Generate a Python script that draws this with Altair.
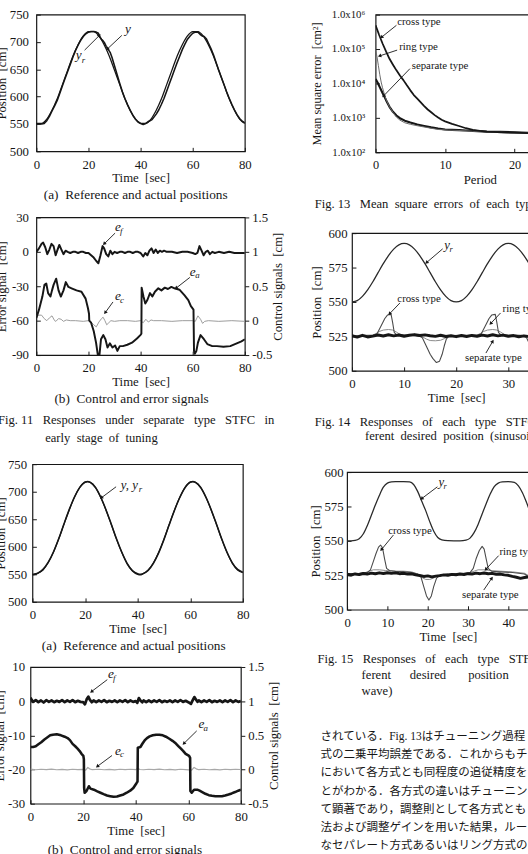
import math

import altair as alt
import pandas as pd

SERIF = "Liberation Serif"
BODY = "Liberation Serif, Noto Sans CJK JP"
INK = "#161616"
NB = "\u00a0"
LEAD = "\u200b"  # keeps leading indentation from being trimmed

TIME = "Time" + NB * 2 + "[sec]"
POS = "Position" + NB * 2 + "[cm]"
ERR = "Error signal" + NB * 2 + "[cm]"
CTRL = "Control signals" + NB * 2 + "[cm]"
MSE = "Mean square error" + NB * 2 + "[cm\u00b2]"

# numbers with a plain hyphen for negatives
NUM = "replace(format(datum.value, '~g'), '\u2212', '-')"
POW = ("'1.0x10' + (datum.value >= 999999 ? '\u2076' : datum.value >= 99999 ? '\u2075' : "
       "datum.value >= 9999 ? '\u2074' : datum.value >= 999 ? '\u00b3' : '\u00b2')")

# ---------------- Fig. 11 (a): reference and actual positions ----------------
F11A_YR = [(0, 551), (2, 551), (4, 559), (6, 575), (8, 596), (10, 622), (12, 648), (14, 674),
           (16, 695), (18, 711), (20, 719), (22, 719), (24, 711), (26, 695), (28, 674), (30, 648),
           (32, 622), (34, 596), (36, 575), (38, 559), (40, 551), (42, 551), (44, 559), (46, 575),
           (48, 596), (50, 622), (52, 648), (54, 674), (56, 695), (58, 711), (60, 719), (62, 719),
           (64, 711), (66, 695), (68, 674), (70, 648), (72, 622), (74, 596), (76, 575), (78, 559),
           (80, 551)]
F11A_Y = [(0, 550), (1, 550), (2, 550), (3, 551), (4, 556), (5, 564), (6, 574), (7, 583), (8, 593),
          (9, 606), (10, 620), (11, 633), (12, 646), (13, 659), (14, 672), (15, 684), (16, 694),
          (17, 703), (18, 710), (19, 715), (20, 718), (21, 719), (22, 719), (23, 718), (23.8, 716),
          (24.4, 709), (25, 705), (25.6, 702), (26.2, 698), (26.8, 692), (27.5, 687), (28.3, 681),
          (29, 672), (30, 656), (31, 640), (32, 624), (33, 609), (34, 596), (35, 585), (36, 575),
          (37, 566), (38, 559), (39, 554), (40, 551), (41, 549), (42, 551), (42.8, 554), (43.6, 556),
          (44.4, 558), (45.2, 563), (46, 568), (47, 576), (48, 586), (49, 597), (50, 610), (51, 623),
          (52, 636), (53, 649), (54, 662), (55, 674), (56, 686), (57, 696), (58, 705), (59, 711),
          (60, 716), (61, 718), (62, 718), (62.8, 714), (63.6, 711), (64.4, 710), (65.2, 706),
          (66, 698), (67, 688), (68, 676), (69, 662), (70, 648), (71, 635), (72, 622), (73, 609),
          (74, 597), (75, 586), (76, 576), (77, 567), (78, 560), (79, 555), (80, 552)]
F11A_SYM = [(34.0, 723, "y"), (15.1, 676, "y")]
F11A_SUB = [(17.4, 667, "r")]
F11A_ARROWS = [(32.8, 712, 27.2, 687), (18.5, 685, 24.2, 712)]

# ---------------- Fig. 11 (b): control and error signals ----------------
F11B_EF = [(0, 0), (1, 3), (2, 7), (2.6, 8), (3.4, 4), (4.2, -2), (5, 2), (5.8, 7), (6.6, 5),
           (7.4, -3), (8, 1), (8.8, 6), (9.6, 2), (10.4, -2), (11.2, 1), (12, 0), (13, -1), (14, 0),
           (15, 0), (16, -1), (17, 0), (18, 0), (19, -1), (20, -1), (21, -3), (22, -5), (23, -8),
           (23.8, -10), (24.6, -3), (25.4, 5), (26, 3), (26.8, -2), (27.6, -4), (28.4, 1), (29.2, -2),
           (30, 0), (31, -1), (32, 0), (33, 0), (34, -1), (35, 0), (36, 0), (37, -1), (38, 0), (39, 0),
           (40, -1), (41, -4), (41.8, -1), (42.6, -3), (43.4, 1), (44.2, 3), (45, -1), (45.8, 2),
           (46.6, -1), (47.4, 1), (48.2, 0), (49, 1), (50, 0), (52, 0), (54, -1), (56, 0), (58, 0),
           (60, -1), (61, -2), (61.8, -1), (62.6, 5), (63.4, 1), (64.2, -3), (65, 0), (65.8, 1),
           (66.6, -2), (67.5, 0), (68.5, -1), (70, 0), (72, -1), (74, 0), (76, -1), (78, -1), (80, -1)]
F11B_EA = [(0, 0.04), (1, 0.16), (2.3, 0.35), (3.1, 0.52), (3.8, 0.54), (4.5, 0.40), (5.4, 0.35),
           (6, 0.44), (6.6, 0.52), (7.6, 0.61), (8.5, 0.44), (9.4, 0.35), (10.4, 0.44), (11.3, 0.56),
           (12.3, 0.49), (13.5, 0.47), (15.4, 0.44), (17.3, 0.42), (18.9, 0.32), (19.8, 0.18),
           (20.2, 0.10), (20.3, 0.00), (21, -0.03), (22, -0.15), (22.9, -0.32), (23.6, -0.50),
           (24.2, -0.50), (24.8, -0.27), (25.7, -0.21), (26.5, -0.27), (27.3, -0.39), (28.2, -0.33),
           (29.2, -0.39), (30.2, -0.36), (31.1, -0.44), (32, -0.37), (33.2, -0.37), (34.9, -0.35),
           (36.7, -0.32), (38.6, -0.26), (39.9, -0.21), (40.3, -0.19), (40.4, 0.48), (41.1, 0.35),
           (41.8, 0.25), (42.6, 0.30), (43.6, 0.40), (44.5, 0.35), (45.5, 0.42), (46.8, 0.47),
           (48, 0.44), (49.3, 0.48), (50.5, 0.46), (51.8, 0.49), (53, 0.47), (54.9, 0.45),
           (56.8, 0.37), (58.3, 0.30), (59.3, 0.21), (60.3, 0.16), (60.5, -0.44), (60.8, -0.48),
           (61.4, -0.44), (62, -0.32), (63, -0.21), (64.3, -0.27), (65.6, -0.34), (67.5, -0.37),
           (69.3, -0.37), (71.8, -0.38), (74.4, -0.37), (76.9, -0.33), (78.7, -0.30), (80, -0.27)]
F11B_EC = [(0, 0.07), (1, 0.08), (2, 0.08), (3, 0.03), (4, 0.0), (5, 0.04), (6, 0.07), (7, 0.0),
           (7.5, -0.01), (8.5, 0.03), (9.5, 0.02), (10.4, -0.01), (11.5, 0.01), (13, 0.0), (15, 0.0),
           (18, -0.01), (20, 0.0), (21, -0.02), (22, -0.06), (23, -0.09), (24, -0.02), (25, 0.03),
           (25.6, 0.05), (26.3, 0.0), (27, -0.06), (27.8, -0.03), (28.6, 0.0), (30, -0.01), (32, 0.0),
           (35, 0.0), (38, -0.01), (40, 0.0), (41, -0.03), (42, 0.02), (43, -0.02), (44, 0.01),
           (45, 0.0), (48, 0.0), (52, -0.01), (56, 0.0), (60, 0.0), (61, -0.01), (62, 0.07),
           (63, 0.02), (63.8, -0.04), (64.6, -0.01), (66, 0.0), (70, -0.01), (75, 0.0), (80, -0.01)]
F11B_SYM = [(30.2, 21.4, "e"), (58.9, -18, "e"), (30.2, -38.6, "e")]
F11B_SUB = [(32.1, 18, "f"), (61.0, -20.6, "a"), (32.1, -42, "c")]
F11B_ARROWS = [(30.2, 16.3, 26.0, 6.9), (58.9, -22.3, 53.6, -31.7), (29.4, -43.7, 26.4, -53.1)]

# ---------------- Fig. 12 (a) ----------------
F12A_YR = [(0, 550), (2, 552), (4, 558), (6, 571), (8, 590), (10, 614), (12, 641), (14, 667),
           (16, 690), (18, 708), (20, 718), (21, 719), (22, 717), (24, 707), (26, 689), (28, 666),
           (30, 640), (32, 613), (34, 589), (36, 569), (38, 556), (40, 550), (41, 549), (42, 551),
           (44, 558), (46, 571), (48, 590), (50, 614), (52, 641), (54, 667), (56, 690), (58, 708),
           (60, 718), (61, 719), (62, 717), (64, 707), (66, 689), (68, 666), (70, 640), (72, 613),
           (74, 589), (76, 570), (78, 558), (80, 553)]
F12A_Y = [(0, 549), (2, 552), (4, 559), (6, 572), (8, 591), (10, 615), (12, 642), (14, 668),
          (16, 691), (18, 708), (20, 717), (21, 718), (22, 717), (24, 708), (26, 690), (28, 667),
          (30, 641), (32, 614), (34, 590), (36, 570), (38, 557), (40, 551), (41, 550), (42, 551),
          (44, 557), (46, 570), (48, 589), (50, 613), (52, 640), (54, 666), (56, 689), (58, 707),
          (60, 717), (61, 718), (62, 717), (64, 708), (66, 690), (68, 667), (70, 641), (72, 614),
          (74, 590), (76, 571), (78, 559), (80, 554)]
F12A_SYM = [(33.6, 712.5, "y, y")]
F12A_SUB = [(40.4, 705, "r")]
F12A_ARROWS = [(31.8, 709, 26.2, 689)]

# ---------------- Fig. 12 (b) ----------------
F12B_EF = [(0, 1.0), (0.5, 0.3), (1, -0.2), (2, 0.3), (3, -0.3), (4, 0.2), (5, -0.4), (6, 0.3),
           (7, -0.2), (8, 0.2), (9, -0.3), (10, 0.1), (11, -0.2), (12, 0.3), (13, -0.3), (14, 0.2),
           (15, -0.2), (16, 0.3), (17, -0.3), (18, 0.1), (19, -0.2), (20, -0.3), (20.7, -0.9),
           (21.4, 0.6), (22, 1.3), (22.6, 0.4), (23.3, -0.3), (24, 0.2), (25, -0.3), (26, 0.2),
           (27, -0.2), (28, 0.3), (29, -0.3), (30, 0.1), (31, -0.2), (32, 0.2), (33, -0.3), (34, 0.2),
           (35, -0.2), (36, 0.3), (37, -0.3), (38, 0.2), (39, -0.2), (40, 0.0), (40.6, -0.5),
           (41.2, 0.9), (41.8, 0.2), (42.5, -0.3), (43, 0.2), (44, -0.3), (45, 0.2), (46, -0.3),
           (47, 0.2), (48, -0.2), (49, 0.3), (50, -0.3), (51, 0.1), (52, -0.2), (53, 0.2), (54, -0.3),
           (55, 0.2), (56, -0.2), (57, 0.3), (58, -0.2), (59, 0.1), (60, -0.3), (61, -0.8),
           (61.7, 0.3), (62.3, 1.2), (62.9, 0.5), (63.5, -0.2), (64, 0.2), (65, -0.3), (66, 0.2),
           (67, -0.2), (68, 0.3), (69, -0.3), (70, 0.1), (71, -0.2), (72, 0.2), (73, -0.3), (74, 0.2),
           (75, -0.2), (76, 0.3), (77, -0.3), (78, 0.2), (79, -0.2), (80, 0.0)]
F12B_EA = [(0, 0.33), (1, 0.33), (2, 0.34), (3, 0.37), (4.1, 0.40), (5.3, 0.44), (6.6, 0.475),
           (7.5, 0.50), (8.5, 0.51), (10, 0.515), (11.6, 0.50), (13, 0.48), (14.1, 0.46), (15, 0.43),
           (16, 0.375), (17, 0.34), (17.9, 0.305), (18.7, 0.27), (19.4, 0.23), (20.1, 0.20),
           (20.3, 0.15), (20.4, -0.27), (20.6, -0.34), (21.3, -0.315), (22.2, -0.245), (22.8, -0.28),
           (24.1, -0.295), (25.4, -0.32), (26.6, -0.34), (27.8, -0.36), (29.1, -0.38), (30.3, -0.39),
           (31.6, -0.40), (32.9, -0.395), (34.1, -0.38), (35.4, -0.365), (36.6, -0.34),
           (37.9, -0.31), (39.1, -0.27), (40.3, -0.20), (40.7, -0.175), (40.8, 0.32), (41.8, 0.33),
           (42.6, 0.38), (43.4, 0.425), (44.3, 0.46), (45.3, 0.485), (46.5, 0.50), (47.8, 0.51),
           (49, 0.51), (50.3, 0.50), (51.5, 0.48), (52.8, 0.45), (54, 0.42), (55.3, 0.38),
           (56.3, 0.34), (57.2, 0.305), (58.1, 0.27), (59, 0.23), (60.3, 0.20), (60.7, 0.17),
           (60.8, -0.315), (61.3, -0.34), (62.2, -0.295), (63.4, -0.295), (64.3, -0.31),
           (65.3, -0.33), (66.5, -0.355), (67.8, -0.375), (69, -0.385), (70.3, -0.39), (71.5, -0.39),
           (72.8, -0.39), (74, -0.38), (75.3, -0.365), (76.5, -0.35), (77.8, -0.33), (79, -0.31),
           (80, -0.295)]
F12B_EC = [(0, 0.005), (2, -0.004), (4, 0.004), (6, -0.003), (8, 0.005), (10, -0.004), (12, 0.003),
           (14, -0.005), (16, 0.004), (18, -0.003), (20, 0.002), (21, -0.01), (21.8, 0.03),
           (22.5, 0.01), (23.5, -0.003), (26, 0.004), (28, -0.004), (30, 0.003), (32, -0.005),
           (34, 0.004), (36, -0.003), (38, 0.004), (40, -0.002), (40.8, 0.02), (41.6, 0.0),
           (43, -0.004), (45, 0.004), (47, -0.003), (49, 0.005), (51, -0.004), (53, 0.003),
           (55, -0.005), (57, 0.004), (59, -0.003), (61.3, -0.01), (62.2, 0.03), (63, 0.01),
           (64, -0.003), (66, 0.004), (68, -0.004), (70, 0.003), (72, -0.005), (74, 0.004),
           (76, -0.003), (78, 0.004), (80, 0.0)]
F12B_SYM = [(29.5, 8, "e"), (63.9, -6.7, "e"), (32.1, -14.5, "e")]
F12B_SUB = [(31.4, 6.8, "f"), (65.8, -7.8, "a"), (34.0, -15.6, "c")]
F12B_ARROWS = [(29.2, 6.3, 23.2, 2.8), (63.2, -8.7, 58.3, -12.4), (31.0, -15.9, 25.4, -19.1)]

# ---------------- Fig. 13: mean square error per period ----------------
F13_CROSS = [(0, 4.9e5), (0.5, 2.6e5), (1, 1.45e5), (1.5, 8.5e4), (2, 5.2e4), (2.5, 3.5e4),
             (3, 2.4e4), (3.5, 1.7e4), (4, 1.25e4), (4.5, 8.8e3), (5, 6.3e3), (5.5, 4.6e3),
             (6, 3.6e3), (6.5, 2.8e3), (7, 2.2e3), (7.5, 1.75e3), (8, 1.45e3), (8.5, 1.2e3),
             (9, 1.02e3), (9.5, 880), (10, 790), (11, 670), (12, 580), (13, 500), (14, 450),
             (15, 420), (16, 400), (17, 390), (18, 380), (19, 375), (20, 370), (21, 365), (22, 360),
             (24, 360), (26, 355), (28, 355), (30, 350)]
F13_RING = [(0, 9.5e4), (0.2, 6.0e4), (0.4, 3.3e4), (0.6, 1.8e4), (0.8, 1.1e4), (1.0, 7.5e3),
            (1.3, 4.6e3), (1.6, 3.1e3), (2.0, 2.1e3), (2.5, 1.45e3), (3.0, 1.05e3), (3.5, 860),
            (4.2, 720), (5, 650), (6, 590), (7.5, 520), (9, 460), (10.5, 440), (12, 430), (14, 410),
            (16, 395), (18, 380), (20, 370), (22, 365), (25, 360), (28, 355), (30, 350)]
F13_SEP = [(0, 1.35e4), (0.3, 1.05e4), (0.6, 7.8e3), (1.0, 5.3e3), (1.3, 4.0e3), (1.6, 3.0e3),
           (2.0, 2.1e3), (2.5, 1.5e3), (3.0, 1.17e3), (3.5, 980), (4.2, 830), (5, 730), (6, 640),
           (7, 580), (8, 530), (9, 490), (10, 460), (11, 450), (12, 440), (13, 430), (14, 420),
           (16, 400), (18, 390), (20, 380), (22, 370), (25, 360), (28, 360), (30, 355)]
F13_LABELS = [(3.1, 6.0e5, "cross type"), (3.4, 1.17e5, "ring type"), (5.2, 3.3e4, "separate type")]
F13_ARROWS = [(3.0, 4.9e5, 0.85, 2.2e5), (3.1, 9.3e4, 0.57, 6.3e4), (4.95, 2.7e4, 1.13, 4.3e3)]

# ---------------- Fig. 14: sinusoidal desired position ----------------
F14_YR = [(0, 550.0), (1, 551.0), (2, 554.1), (3, 558.8), (4, 564.7), (5, 571.3), (6, 577.8),
          (7, 583.7), (8, 588.4), (9, 591.5), (10, 592.5), (11, 591.5), (12, 588.4), (13, 583.7),
          (14, 577.8), (15, 571.3), (16, 564.7), (17, 558.8), (18, 554.1), (19, 551.0), (20, 550.0),
          (21, 551.0), (22, 554.1), (23, 558.8), (24, 564.7), (25, 571.3), (26, 577.8), (27, 583.7),
          (28, 588.4), (29, 591.5), (30, 592.5), (31, 591.5), (32, 588.4), (33, 583.7), (34, 577.8),
          (35, 571.3), (36, 564.7), (37, 558.8), (38, 554.1), (39, 551.0), (40, 550.0)]
F14_CROSS = [(0, 525), (2, 525.3), (4, 525.6), (4.8, 527), (5.5, 532), (6.3, 538), (6.8, 540.5),
             (7.5, 541), (7.8, 535), (8.1, 528), (8.6, 526), (10, 525.8), (12, 525.5), (13, 525),
             (13.5, 524), (14, 520), (14.5, 516), (15, 512), (15.5, 509), (16.2, 506), (16.8, 507),
             (17.3, 512), (17.7, 518), (18.1, 523), (18.5, 525), (20, 525.5), (22, 525.2),
             (24, 525.6), (24.8, 527), (25.5, 532), (26.3, 538), (26.8, 540.5), (27.5, 541),
             (27.8, 535), (28.1, 528), (28.6, 526), (30, 525.8), (32, 525.5), (33, 525), (33.5, 524),
             (34, 520), (34.5, 516), (35, 512), (35.5, 509), (36.2, 506), (36.8, 507), (37.3, 512),
             (37.7, 518), (38.1, 523), (38.5, 525), (40, 525.5)]
F14_RING = [(0, 525.5), (2, 525.8), (4, 526), (4.6, 527), (5.2, 528.5), (6, 529.6), (7, 530),
            (7.8, 529.6), (8.5, 528.2), (9.2, 526.5), (10, 526), (12, 526), (13, 525.5),
            (13.6, 524.5), (14.3, 523), (15, 522), (16, 521.8), (17, 522.2), (17.8, 523.5),
            (18.5, 525), (20, 525.8), (22, 525.8), (24, 526), (24.6, 527), (25.2, 528.5), (26, 529.6),
            (27, 530), (27.8, 529.6), (28.5, 528.2), (29.2, 526.5), (30, 526), (32, 526),
            (33, 525.5), (33.6, 524.5), (34.3, 523), (35, 522), (36, 521.8), (37, 522.2),
            (37.8, 523.5), (38.5, 525), (40, 525.8)]
F14_SEP_T = list(range(41))
F14_SEP_V = [525.5, 524.5, 525.8, 524.6, 525.2, 526.0, 525.3, 526.2, 525.4, 526.0, 525.1, 525.8,
             526.3, 525.6, 526.1, 525.5, 525.0, 525.8, 524.9, 525.5, 524.8, 525.6, 524.9, 525.7,
             525.1, 525.9, 525.3, 526.2, 525.4, 525.9, 525.0, 525.6, 524.7, 525.4, 524.9, 525.5,
             524.8, 525.6, 525.0, 525.6, 525.0]
F14_SYM = [(17.7, 591.4, "y")]
F14_SUB = [(18.7, 588.6, "r")]
F14_LABELS = [(8.7, 552.1, "cross type"), (28.9, 545.0, "ring type"), (21.7, 509.3, "separate type")]
F14_ARROWS = [(17.4, 588.6, 14.3, 578.6), (9.2, 549.3, 7.2, 541.4), (28.5, 542.0, 26.6, 534.3),
              (25.7, 512.9, 27.0, 521.4)]

# ---------------- Fig. 15: trapezoidal desired position ----------------
F15_YR = [(0, 550), (1, 550), (2, 550.3), (3, 551.5), (4, 555), (5, 561), (6, 568.5), (7, 576),
          (8, 583), (9, 589), (10, 592), (11, 592.8), (12, 593), (14, 593), (15.5, 592.8),
          (16.5, 591), (17.5, 586), (18.5, 579), (19.5, 572), (20.5, 564), (21.5, 557),
          (22.5, 552.5), (23.5, 550.8), (25, 550.2), (28, 550), (29.5, 550.5), (30.5, 552),
          (31.5, 556), (32.5, 562), (33.5, 569.5), (34.5, 577), (35.5, 584), (36.5, 589.5),
          (37.5, 592), (38.5, 592.8), (40, 593), (41.5, 592.5), (42.5, 590), (43.5, 585),
          (44.5, 578), (45.5, 570), (46.5, 562), (47.5, 556), (48.5, 552), (50, 550.5)]
F15_CROSS = [(0, 526), (3, 526.5), (5, 527), (5.8, 529), (6.5, 535), (7.2, 541), (7.8, 545.5),
             (8.3, 547), (8.8, 545), (9.3, 537), (9.8, 530), (10.5, 528.5), (12, 528), (14, 527.5),
             (16, 527), (17.5, 526), (18.3, 524), (19, 517), (19.7, 510), (20.3, 507), (20.9, 510),
             (21.5, 517), (22.2, 523), (23, 525), (25, 526), (28, 526), (30.5, 527), (31.3, 530),
             (32, 537), (32.8, 543), (33.5, 546), (34, 544), (34.5, 537), (35, 530), (35.8, 528),
             (38, 527.5), (41, 527), (44, 526), (45, 524), (45.7, 517), (46.4, 510), (47, 507),
             (47.6, 510), (48.2, 517), (48.9, 523), (50, 525)]
F15_RING = [(0, 526), (4, 526.5), (5.5, 528), (6.5, 529), (8, 529), (9.5, 528.5), (11, 528),
            (14, 528), (16, 527.5), (17.5, 526), (18.5, 523.5), (19.5, 522), (20.5, 522),
            (21.5, 523), (22.5, 525), (25, 526), (30, 526.5), (31.5, 528), (32.5, 529), (34, 529),
            (35.5, 528.5), (38, 528), (41, 527.5), (44, 526.5), (45.5, 524), (46.5, 522.5),
            (47.5, 522.5), (48.5, 524), (50, 525.5)]
F15_SEP_T = list(range(51))
F15_SEP_V = [525.8, 525.2, 526.0, 525.5, 526.3, 525.9, 526.6, 526.1, 526.8, 526.3, 526.9, 526.4,
             526.8, 526.2, 526.5, 525.9, 526.0, 525.3, 524.9, 524.2, 524.6, 523.9, 524.4, 524.8,
             525.3, 525.0, 525.7, 525.4, 526.0, 525.6, 526.2, 526.0, 526.6, 526.2, 526.7, 526.1,
             526.4, 525.8, 525.9, 525.3, 525.0, 524.2, 523.6, 522.8, 523.4, 523.9, 524.5, 524.1,
             524.8, 525.2, 525.0]
F15_SYM = [(22.7, 592.9, "y")]
F15_SUB = [(23.9, 590.0, "r")]
F15_LABELS = [(10.2, 557.1, "cross type"), (37.8, 542.1, "ring type"), (28.5, 510.7, "separate type")]
F15_ARROWS = [(22.4, 589.3, 18.5, 580.7), (11.5, 554.3, 8.5, 543.6), (37.6, 539.3, 34.4, 529.3),
              (33.9, 514.3, 35.9, 522.9)]

# ---------------- running text ----------------
JP_LINES = [
    "されている．Fig. 13はチューニング過程",
    "式の二乗平均誤差である．これからもチ",
    "において各方式とも同程度の追従精度を",
    "とがわかる．各方式の違いはチューニン",
    "て顕著であり，調整則として各方式とも",
    "法および調整ゲインを用いた結果，ルー",
    "なセパレート方式あるいはリング方式の",
]


def gap(words, n):
    return (NB * n).join(words)


def indent(n, text):
    return LEAD + NB * n + text


# ---------------- helpers ----------------
def lin(lo, hi):
    return alt.Scale(domain=[lo, hi], nice=False, zero=False)


def xaxis(values, title, size=13):
    return alt.Axis(values=values, title=title, orient="bottom", offset=-4, tickSize=4, tickWidth=1,
                    tickColor=INK, labelPadding=7, titlePadding=1, domain=False, grid=False,
                    labelFlush=False, labelOverlap=False, labelFont=SERIF, labelFontSize=size,
                    labelColor=INK, titleFont=SERIF, titleFontSize=13, titleFontWeight="normal",
                    titleColor=INK, labelExpr=NUM)


def yaxis(values, title, extent, pad=8, size=13, expr=NUM, tsize=13):
    return alt.Axis(values=values, title=title, orient="left", offset=-4, tickSize=4, tickWidth=1,
                    tickColor=INK, labelPadding=pad, titlePadding=0, minExtent=extent,
                    maxExtent=extent, domain=False, grid=False, labelOverlap=False, labelFont=SERIF,
                    labelFontSize=size, labelColor=INK, titleFont=SERIF, titleFontSize=tsize,
                    titleFontWeight="normal", titleColor=INK, labelExpr=expr)


def raxis():
    return alt.Axis(values=[-0.5, 0, 0.5, 1, 1.5], title=CTRL, orient="right", tickSize=4,
                    tickWidth=1, tickColor=INK, labelPadding=3, titlePadding=0, minExtent=27,
                    maxExtent=27, domain=False, grid=False, labelOverlap=False, labelFont=SERIF,
                    labelFontSize=13, labelColor=INK, titleFont=SERIF, titleFontSize=13,
                    titleFontWeight="normal", titleColor=INK, titleAngle=270, titleBaseline="top",
                    labelExpr=NUM)


class Frame:
    def __init__(self, xs, ys, xa, ya, sx, sy, log=False):
        self.xs, self.ys, self.xa, self.ya = xs, ys, xa, ya
        self.sx, self.sy, self.log = sx, sy, log

    def X(self, f="x"):
        return alt.X(f + ":Q", scale=self.xs, axis=self.xa)

    def Y(self, f="y"):
        return alt.Y(f + ":Q", scale=self.ys, axis=self.ya)


def curve(fr, pairs, width, color=INK, interp="linear"):
    df = pd.DataFrame(pairs, columns=["x", "y"])
    return alt.Chart(df).mark_line(strokeWidth=width, color=color, interpolate=interp, clip=True,
                                   strokeJoin="round").encode(x=fr.X(), y=fr.Y())


def words(fr, rows, size, italic=False):
    df = pd.DataFrame(rows, columns=["x", "y", "txt"])
    return alt.Chart(df).mark_text(align="left", baseline="middle", font=SERIF, fontSize=size,
                                   fontStyle="italic" if italic else "normal",
                                   color=INK).encode(x=fr.X(), y=fr.Y(), text="txt:N")


def arrows(fr, rows):
    df = pd.DataFrame(rows, columns=["x", "y", "x2", "y2"])
    tr = (lambda v: math.log10(v)) if fr.log else (lambda v: v)
    # on-screen heading of each arrow, used to turn its head
    df["ang"] = [math.degrees(math.atan2((b - a) * fr.sx, (tr(d) - tr(c)) * fr.sy)) % 360
                 for a, c, b, d in rows]
    shaft = alt.Chart(df).mark_rule(color=INK, strokeWidth=0.9).encode(
        x=fr.X(), y=fr.Y(), x2="x2:Q", y2="y2:Q")
    head = alt.Chart(df).mark_point(shape="triangle-up", filled=True, size=16, color=INK,
                                    opacity=1).encode(
        x=fr.X("x2"), y=fr.Y("y2"), angle=alt.Angle("ang:Q", scale=None))
    return [shaft, head]


def caption(lines, anchor="middle", dx=0, offset=4, size=13.5, lh=16, sub=None, sub_size=12.8,
            sub_lh=20, sub_pad=5):
    kw = dict(text=lines, orient="bottom", anchor=anchor, frame="group", offset=offset, dx=dx,
              font=SERIF, fontSize=size, fontWeight="normal", color=INK, lineHeight=lh)
    if sub is not None:
        kw.update(subtitle=sub, subtitleFont=SERIF, subtitleFontSize=sub_size,
                  subtitleColor=INK, subtitleLineHeight=sub_lh, subtitlePadding=sub_pad)
    return alt.TitleParams(**kw)


def solo(chart, indent_px=1):
    # an invisible strut ahead of the panel sets how far the panel stands in from the column edge
    strut = alt.Chart(pd.DataFrame({"k": [0]})).mark_rule(opacity=0, strokeWidth=0.01).encode(
        x=alt.value(0), x2=alt.value(0), y=alt.value(0), y2=alt.value(0)
    ).properties(width=indent_px, height=1, view=alt.ViewBackground(stroke="transparent"))
    return alt.hconcat(strut, chart, spacing=0)


def stack(*charts, spacing):
    return alt.vconcat(*charts, spacing=spacing)


# ---------------- Fig. 11 (a) ----------------
f1 = Frame(lin(0, 80), lin(500, 750), xaxis([0, 20, 40, 60, 80], TIME),
           yaxis([500, 550, 600, 650, 700, 750], POS, 32), 212 / 80, 139 / 250)
p1 = alt.layer(
    curve(f1, F11A_YR, 1.3, interp="monotone"),
    curve(f1, F11A_Y, 1.6),
    words(f1, F11A_SYM, 13.5, True),
    words(f1, F11A_SUB, 9, True),
    *arrows(f1, F11A_ARROWS),
).properties(width=212, height=139,
             title=caption("(a)" + NB * 2 + "Reference and actual positions", dx=-5))

# ---------------- Fig. 11 (b) ----------------
x11b = xaxis([0, 20, 40, 60, 80], TIME)
f2 = Frame(lin(0, 80), lin(-90, 30), x11b, yaxis([-90, -60, -30, 0, 30], ERR, 32),
           212 / 80, 140 / 120)
f2r = Frame(lin(0, 80), lin(-0.5, 1.5), x11b, raxis(), 212 / 80, 140 / 2)
p2 = alt.layer(
    alt.layer(curve(f2, F11B_EF, 2.0), words(f2, F11B_SYM, 13.5, True),
              words(f2, F11B_SUB, 9, True), *arrows(f2, F11B_ARROWS)),
    alt.layer(curve(f2r, F11B_EC, 1.0, "#9a9a9a"), curve(f2r, F11B_EA, 2.0)),
).resolve_scale(y="independent").properties(
    width=212, height=140,
    title=caption(indent(17, "(b)" + NB * 2 + "Control and error signals"), anchor="start", dx=-39,
                  sub=[gap(["Fig.", "11"], 1) + NB * 3 +
                       gap(["Responses", "under", "separate", "type", "STFC", "in"], 3),
                       indent(15, gap(["early", "stage", "of", "tuning"], 2))],
                  sub_lh=18, sub_pad=9))

# ---------------- Fig. 12 (a) ----------------
f3 = Frame(lin(0, 80), lin(500, 750), xaxis([0, 20, 40, 60, 80], TIME),
           yaxis([500, 550, 600, 650, 700, 750], POS, 29, pad=6), 214 / 80, 140 / 250)
p3 = alt.layer(
    curve(f3, F12A_YR, 1.3, interp="monotone"),
    curve(f3, F12A_Y, 1.5, interp="monotone"),
    words(f3, F12A_SYM, 13, True),
    words(f3, F12A_SUB, 9, True),
    *arrows(f3, F12A_ARROWS),
).properties(width=214, height=140,
             title=caption("(a)" + NB * 2 + "Reference and actual positions", dx=-4))

# ---------------- Fig. 12 (b) ----------------
x12b = xaxis([0, 20, 40, 60, 80], TIME)
f4 = Frame(lin(0, 80), lin(-30, 10), x12b, yaxis([-30, -20, -10, 0, 10], ERR, 28, pad=6),
           214 / 80, 139 / 40)
f4r = Frame(lin(0, 80), lin(-0.5, 1.5), x12b, raxis(), 214 / 80, 139 / 2)
p4 = alt.layer(
    alt.layer(curve(f4, F12B_EF, 2.8), words(f4, F12B_SYM, 13.5, True),
              words(f4, F12B_SUB, 9, True), *arrows(f4, F12B_ARROWS)),
    alt.layer(curve(f4r, F12B_EC, 1.2, "#a8a8a8"), curve(f4r, F12B_EA, 2.6)),
).resolve_scale(y="independent").properties(
    width=214, height=139,
    title=caption("(b)" + NB * 2 + "Control and error signals", dx=-11, offset=6))

# ---------------- Fig. 13 ----------------
f5 = Frame(lin(0, 30), alt.Scale(type="log", domain=[100, 1e6], nice=False),
           alt.Axis(values=[0, 10, 20, 30], title="Period", orient="bottom", offset=-4, tickSize=4,
                    tickColor=INK, labelPadding=7, titlePadding=2, domain=False, grid=False,
                    labelFlush=False, labelOverlap=False, labelFont=SERIF, labelFontSize=12.5,
                    labelColor=INK, titleFont=SERIF, titleFontSize=13, titleFontWeight="normal",
                    titleColor=INK),
           yaxis([100, 1000, 10000, 100000, 1000000], MSE, 57, pad=11, size=11, expr=POW, tsize=12.5),
           212 / 30, 140 / 4, log=True)
p5 = alt.layer(
    curve(f5, F13_SEP, 2.2),
    curve(f5, F13_RING, 1.0, "#6a6a6a"),
    curve(f5, F13_CROSS, 1.8),
    words(f5, F13_LABELS, 11),
    *arrows(f5, F13_ARROWS),
).properties(width=212, height=140,
             title=caption([gap(["Fig.", "13"], 1) + NB * 3 +
                            gap(["Mean", "square", "errors", "of", "each", "type"], 2)],
                           anchor="start", dx=-62, offset=11.75, size=12.8))

# ---------------- Fig. 14 ----------------
f6 = Frame(lin(0, 40), lin(500, 600), xaxis([0, 10, 20, 30, 40], TIME),
           yaxis([500, 525, 550, 575, 600], POS, 33, pad=5), 212 / 40, 140 / 100)
p6 = alt.layer(
    curve(f6, F14_YR, 1.3, "#2a2a2a", interp="monotone"),
    curve(f6, F14_RING, 1.0, "#8a8a8a"),
    curve(f6, F14_CROSS, 1.1, "#4a4a4a"),
    curve(f6, list(zip(F14_SEP_T, F14_SEP_V)), 3.0),
    words(f6, F14_SYM, 13, True),
    words(f6, F14_SUB, 8.5, True),
    words(f6, F14_LABELS, 11),
    *arrows(f6, F14_ARROWS),
).properties(width=212, height=140,
             title=caption([gap(["Fig.", "14"], 1) + NB * 3 +
                            gap(["Responses", "of", "each", "type", "STFC"], 3),
                            indent(16, gap(["ferent", "desired", "position", "(sinusoidal"], 2))],
                           anchor="start", dx=-38, offset=11.75, size=12.8, lh=15))

# ---------------- Fig. 15 ----------------
f7 = Frame(lin(0, 50), lin(500, 600), xaxis([0, 10, 20, 30, 40, 50], TIME),
           yaxis([500, 525, 550, 575, 600], POS, 29, pad=4), 205 / 50, 140 / 100)
p7 = alt.layer(
    curve(f7, F15_YR, 1.3, "#2a2a2a", interp="monotone"),
    curve(f7, F15_RING, 1.0, "#8a8a8a"),
    curve(f7, F15_CROSS, 1.1, "#4a4a4a"),
    curve(f7, list(zip(F15_SEP_T, F15_SEP_V)), 3.0),
    words(f7, F15_SYM, 13, True),
    words(f7, F15_SUB, 8.5, True),
    words(f7, F15_LABELS, 11),
    *arrows(f7, F15_ARROWS),
).properties(width=205, height=140,
             title=caption([gap(["Fig.", "15"], 1) + NB * 3 +
                            gap(["Responses", "of", "each", "type", "STFC"], 3),
                            indent(14, "ferent" + NB * 6 + "desired" + NB * 7 + "position"),
                            indent(14, "wave)")],
                           anchor="start", dx=-30, offset=10.25, size=12.8, lh=16.3))

# ---------------- body text ----------------
jp = alt.Chart(pd.DataFrame({"row": list(range(len(JP_LINES))), "txt": JP_LINES})).mark_text(
    align="left", baseline="middle", font=BODY, fontSize=11.7, color=INK, dx=8
).encode(
    x=alt.value(0),
    y=alt.Y("row:Q", scale=alt.Scale(domain=[0, len(JP_LINES) - 1], reverse=True), axis=None),
    text="txt:N",
).properties(width=210, height=110.4, view=alt.ViewBackground(stroke="transparent"))

left = stack(stack(solo(p1, 5), solo(p2, 5), spacing=7.25),
             stack(solo(p3, 4), solo(p4, 3), spacing=6.25), spacing=11.25)
right = stack(stack(solo(p5, 2), solo(p6, 2), spacing=15.25),
              stack(solo(p7, 1), solo(jp, 4), spacing=31.75), spacing=21.25)

chart = alt.hconcat(left, right, spacing=21).properties(
    padding={"left": -12, "top": 0.5, "right": -64, "bottom": 0.5},
    background="white",
).configure_view(stroke=INK, strokeWidth=1.2)

chart.save("out.html", embed_options={"renderer": "svg", "actions": False})
